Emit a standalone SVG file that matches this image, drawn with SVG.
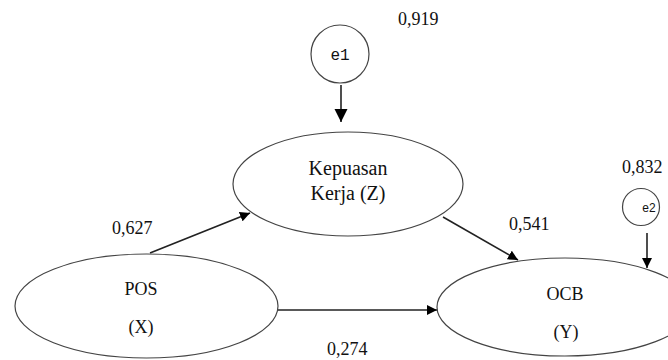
<svg xmlns="http://www.w3.org/2000/svg" width="668" height="360" viewBox="0 0 668 360">
<defs>
<marker id="ah" viewBox="0 0 10 10" refX="10" refY="5" markerWidth="10" markerHeight="10" markerUnits="userSpaceOnUse" orient="auto">
<path d="M0,0 L10,5 L0,10 Z" fill="#000"/>
</marker>
<marker id="ahb" viewBox="0 0 10 10" refX="10" refY="5" markerWidth="13" markerHeight="14" markerUnits="userSpaceOnUse" orient="auto">
<path d="M0,0 L10,5 L0,10 Z" fill="#000"/>
</marker>
</defs>
<style>
.shape{fill:#fff;stroke:#444;stroke-width:1.2}
text{font-family:'Liberation Serif','Times New Roman','DejaVu Serif',serif;font-size:18px;fill:#111}
.lbl{text-anchor:middle}
.conn{stroke:#222;stroke-width:1.6;fill:none}
</style>
<rect width="668" height="360" fill="#fff"/>
<g id="connectors">
<line class="conn" x1="341" y1="85" x2="341" y2="122" marker-end="url(#ahb)"/>
<line class="conn" x1="150" y1="253" x2="250" y2="213" marker-end="url(#ah)"/>
<line class="conn" x1="443" y1="217" x2="518" y2="260" marker-end="url(#ah)"/>
<line class="conn" x1="278" y1="310" x2="437" y2="310" marker-end="url(#ah)"/>
<line class="conn" x1="647" y1="233" x2="647" y2="268" marker-end="url(#ah)"/>
</g>
<g id="e1">
<circle class="shape" cx="340" cy="54" r="29"/>
<text x="340" y="60" style="font-family:'Liberation Mono','Courier New',monospace;font-size:16px;text-anchor:middle">e1</text>
</g>
<g id="kepuasan">
<ellipse class="shape" cx="348" cy="184" rx="115" ry="52"/>
<text class="lbl" x="348" y="175" style="font-size:20px">Kepuasan</text>
<text class="lbl" x="348" y="200" style="font-size:20px">Kerja (Z)</text>
</g>
<g id="pos">
<ellipse class="shape" cx="146.5" cy="306" rx="131.5" ry="52"/>
<text class="lbl" x="141" y="295">POS</text>
<text class="lbl" x="141" y="333">(X)</text>
</g>
<g id="ocb">
<ellipse class="shape" cx="565" cy="307" rx="128" ry="49"/>
<text class="lbl" x="565" y="300">OCB</text>
<text class="lbl" x="566" y="338">(Y)</text>
</g>
<g id="e2">
<circle class="shape" cx="641" cy="207" r="18.5"/>
<text x="649" y="212" style="font-family:'Liberation Sans Narrow','Liberation Sans',Arial,sans-serif;font-size:12px;text-anchor:middle">e2</text>
</g>
<g id="labels">
<text x="398" y="25">0,919</text>
<text x="112" y="234">0,627</text>
<text x="509" y="230">0,541</text>
<text x="622" y="173">0,832</text>
<text x="327" y="355">0,274</text>
</g>
</svg>
